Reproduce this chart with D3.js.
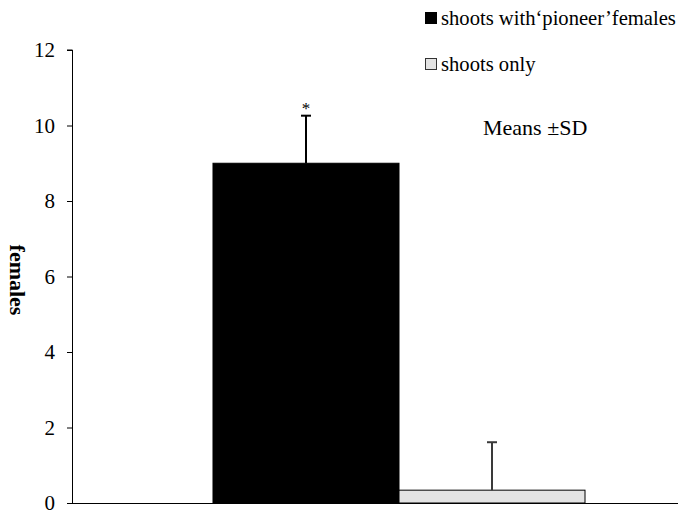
<!DOCTYPE html>
<html>
<head>
<meta charset="utf-8">
<script src="https://cdn.jsdelivr.net/npm/d3@7"></script>
<style>
  html, body { margin: 0; padding: 0; background: #fff; }
  svg { display: block; }
</style>
</head>
<body>
<svg id="chart" width="678" height="511"></svg>
<script>
// Data
const groups = ["shoots"];
const seriesNames = ["shoots with‘pioneer’females", "shoots only"];
const means = [9.0, 0.34];
const sds = [1.26, 1.27];
const seriesFill = ["#000000", "#e3e3e3"];
const errColor = ["#000000", "#3a3a3a"];
const yTicks = [0, 2, 4, 6, 8, 10, 12];
const yLabel = "females";
const noteText = "Means ±SD";
const sigMark = "*";

(function drawChart() {
  const serif = "Liberation Serif";
  const width = 678;
  const svg = d3.select("#chart");
  const plot = { left: 72, right: 726, top: 50, bottom: 503 };

  const y = d3.scaleLinear().domain([0, 12]).range([plot.bottom, plot.top]);
  const x0 = d3.scaleBand().domain(groups).range([plot.left, plot.right]).paddingInner(0).paddingOuter(0.379);
  const x1 = d3.scaleBand().domain(d3.range(seriesNames.length)).range([0, x0.bandwidth()]).padding(0);

  // Y axis with outward ticks
  const yAxis = svg.append("g")
    .attr("transform", `translate(${plot.left},0)`)
    .call(d3.axisLeft(y).tickValues(yTicks).tickSize(5).tickPadding(12).tickFormat(d3.format("d")));
  yAxis.attr("font-family", serif);
  yAxis.select(".domain").attr("stroke", "#000").attr("stroke-width", 1).attr("d", `M-5,${plot.top}H0.5V${plot.bottom}`);
  yAxis.selectAll(".tick line").attr("stroke", "#000");
  yAxis.selectAll(".tick text")
    .attr("font-family", serif)
    .attr("font-size", 21).attr("fill", "#000");

  // X baseline
  svg.append("line")
    .attr("x1", plot.left).attr("x2", width)
    .attr("y1", plot.bottom + 0.5).attr("y2", plot.bottom + 0.5)
    .attr("stroke", "#000").attr("stroke-width", 1);

  // Bars
  const g = svg.append("g").attr("transform", `translate(${x0(groups[0])},0)`);
  g.selectAll("rect.bar").data(means).join("rect")
    .attr("class", "bar")
    .attr("x", (d, i) => x1(i))
    .attr("y", d => y(d))
    .attr("width", x1.bandwidth())
    .attr("height", d => y(0) - y(d))
    .attr("fill", (d, i) => seriesFill[i])
    .attr("stroke", "#000").attr("stroke-width", 1);

  // Error bars (upper only)
  means.forEach((m, i) => {
    const cx = x1(i) + x1.bandwidth() / 2;
    g.append("line")
      .attr("x1", cx).attr("x2", cx)
      .attr("y1", y(m)).attr("y2", y(m + sds[i]))
      .attr("stroke", errColor[i]).attr("stroke-width", 2);
    g.append("line")
      .attr("x1", cx - 5).attr("x2", cx + 5)
      .attr("y1", y(m + sds[i])).attr("y2", y(m + sds[i]))
      .attr("stroke", errColor[i]).attr("stroke-width", 2);
  });

  // Significance mark
  g.append("text")
    .attr("x", x1(0) + x1.bandwidth() / 2)
    .attr("y", y(means[0] + sds[0]) - 2)
    .attr("text-anchor", "middle")
    .attr("font-family", serif)
    .attr("font-size", 17)
    .attr("fill", "#000")
    .text(sigMark);

  // Y label
  svg.append("text")
    .attr("transform", `translate(10,280) rotate(90)`)
    .attr("text-anchor", "middle")
    .attr("font-family", serif)
    .attr("font-weight", "bold")
    .attr("font-size", 22)
    .attr("fill", "#000")
    .text(yLabel);

  // Legend; entries shrink if they would run past the right edge
  const legend = svg.append("g");
  const legendTop = [12, 58];
  const legendBase = [25, 71];
  const textX = 441;
  const maxTextWidth = width - textX - 2;
  const legendTexts = seriesNames.map((name, i) => {
    legend.append("rect")
      .attr("x", 425.5).attr("y", legendTop[i] + 0.5)
      .attr("width", 11).attr("height", 11)
      .attr("fill", seriesFill[i])
      .attr("stroke", i === 0 ? "#000" : "#333").attr("stroke-width", 1);
    return legend.append("text")
      .attr("x", textX).attr("y", legendBase[i])
      .attr("font-family", serif)
      .attr("font-size", 21)
      .attr("fill", "#000")
      .text(name);
  });
  const widest = d3.max(legendTexts, t => t.node().getComputedTextLength());
  if (widest > maxTextWidth) {
    const fs = 21 * maxTextWidth / widest;
    legendTexts.forEach(t => t.attr("font-size", fs));
  }

  // Note
  svg.append("text")
    .attr("x", 483).attr("y", 135)
    .attr("font-family", serif)
    .attr("font-size", 22)
    .attr("fill", "#000")
    .text(noteText);
})();
</script>
</body>
</html>
